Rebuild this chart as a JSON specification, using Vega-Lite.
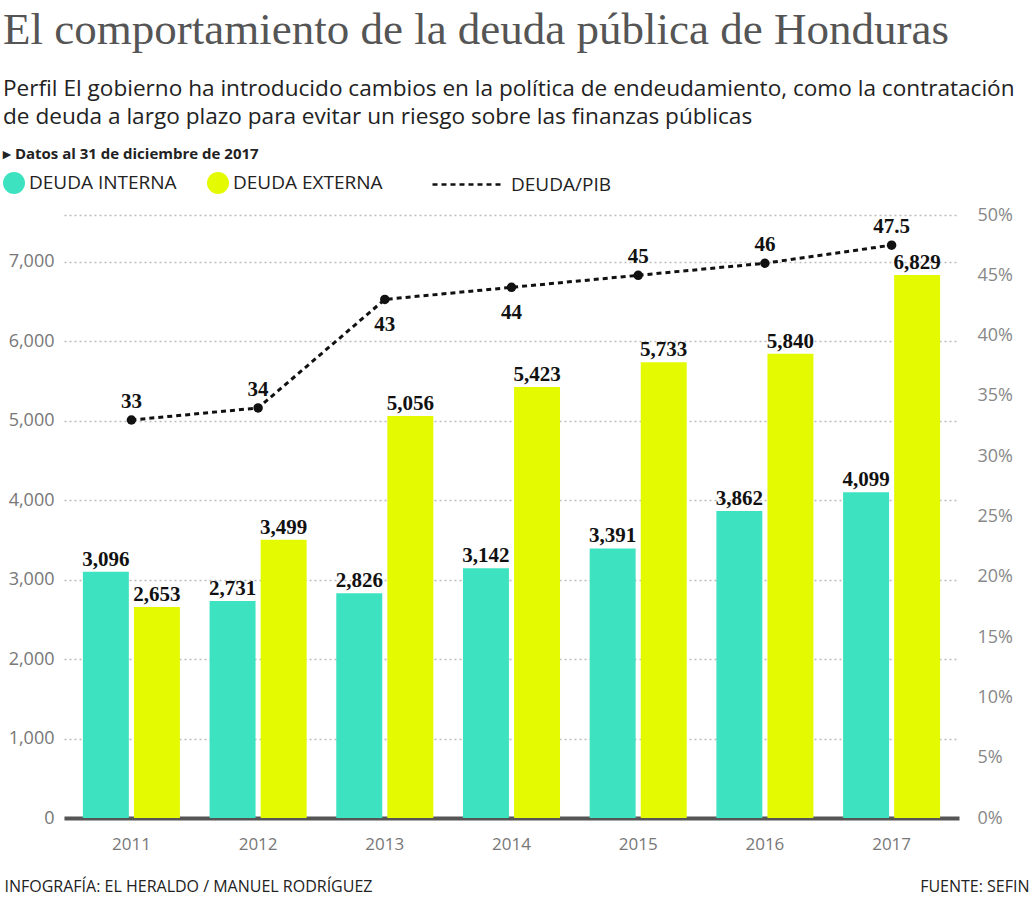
{
  "$schema": "https://vega.github.io/schema/vega-lite/v6.json",
  "width": 895,
  "height": 603,
  "padding": {"left": 3, "top": 8, "right": 3, "bottom": 5},
  "background": "white",
  "config": {"view": {"stroke": null}, "font": "Open Sans"},
  "title": {
    "text": "El comportamiento de la deuda pública de Honduras",
    "subtitle": [
      "Perfil El gobierno ha introducido cambios en la política de endeudamiento, como la contratación",
      "de deuda a largo plazo para evitar un riesgo sobre las finanzas públicas"
    ],
    "anchor": "start",
    "frame": "bounds",
    "font": "Liberation Serif",
    "fontSize": 45,
    "fontWeight": "normal",
    "color": "#555",
    "subtitleFont": "Open Sans",
    "subtitleFontSize": 22.6,
    "subtitleColor": "#222",
    "subtitleLineHeight": 28,
    "subtitlePadding": 25,
    "offset": 18
  },
  "datasets": {
    "deuda": [
      {"year": "2011", "tipo": "DEUDA INTERNA", "value": 3096},
      {"year": "2011", "tipo": "DEUDA EXTERNA", "value": 2653},
      {"year": "2012", "tipo": "DEUDA INTERNA", "value": 2731},
      {"year": "2012", "tipo": "DEUDA EXTERNA", "value": 3499},
      {"year": "2013", "tipo": "DEUDA INTERNA", "value": 2826},
      {"year": "2013", "tipo": "DEUDA EXTERNA", "value": 5056},
      {"year": "2014", "tipo": "DEUDA INTERNA", "value": 3142},
      {"year": "2014", "tipo": "DEUDA EXTERNA", "value": 5423},
      {"year": "2015", "tipo": "DEUDA INTERNA", "value": 3391},
      {"year": "2015", "tipo": "DEUDA EXTERNA", "value": 5733},
      {"year": "2016", "tipo": "DEUDA INTERNA", "value": 3862},
      {"year": "2016", "tipo": "DEUDA EXTERNA", "value": 5840},
      {"year": "2017", "tipo": "DEUDA INTERNA", "value": 4099},
      {"year": "2017", "tipo": "DEUDA EXTERNA", "value": 6829}
    ],
    "pib": [
      {"year": "2011", "pib": 33},
      {"year": "2012", "pib": 34},
      {"year": "2013", "pib": 43},
      {"year": "2014", "pib": 44},
      {"year": "2015", "pib": 45},
      {"year": "2016", "pib": 46},
      {"year": "2017", "pib": 47.5}
    ]
  },
  "layer": [
    {
      "data": {"name": "deuda"},
      "encoding": {
        "x": {
          "field": "year",
          "type": "nominal",
          "scale": {"paddingInner": 0.234, "paddingOuter": 0.149},
          "axis": {
            "labelAngle": 0,
            "labelPadding": 18,
            "labelFontSize": 17,
            "labelColor": "#777",
            "ticks": false,
            "domain": true,
            "domainColor": "#555",
            "domainWidth": 4,
            "grid": false,
            "title": "INFOGRAFÍA: EL HERALDO / MANUEL RODRÍGUEZ",
            "titleX": -60,
            "titleY": 68,
            "titleAlign": "left",
            "titleAnchor": null,
            "titleBaseline": "middle",
            "titleFontSize": 16,
            "titleFontWeight": "normal",
            "titleColor": "#222"
          }
        },
        "xOffset": {
          "field": "tipo",
          "sort": ["DEUDA INTERNA", "DEUDA EXTERNA"],
          "scale": {"paddingInner": 0.1, "paddingOuter": 0}
        },
        "y": {
          "field": "value",
          "type": "quantitative",
          "scale": {"domain": [0, 7585], "nice": false, "zero": true},
          "axis": {
            "orient": "left",
            "values": [0, 1000, 2000, 3000, 4000, 5000, 6000, 7000, 7585],
            "labelExpr": "datum.value > 7000 ? '' : format(datum.value, ',')",
            "grid": true,
            "gridDash": [2, 3],
            "gridColor": "#bbb",
            "gridWidth": 1.5,
            "domain": false,
            "ticks": false,
            "labelPadding": 10,
            "labelFontSize": 18,
            "labelColor": "#777",
            "title": null
          }
        }
      },
      "layer": [
        {
          "mark": {"type": "bar"},
          "encoding": {
            "color": {
              "field": "tipo",
              "type": "nominal",
              "scale": {"domain": ["DEUDA INTERNA", "DEUDA EXTERNA"], "range": ["#3de3c0", "#e4fa00"]},
              "legend": {
                "orient": "none",
                "legendX": -61,
                "legendY": -68,
                "direction": "horizontal",
                "title": "▸ Datos al 31 de diciembre de 2017",
                "titleLimit": 600,
                "titleFontSize": 15,
                "titleFontWeight": "bold",
                "titleColor": "#222",
                "titlePadding": 10,
                "symbolType": "circle",
                "symbolSize": 484,
                "symbolStrokeWidth": 0,
                "labelFontSize": 19,
                "labelColor": "#222",
                "labelOffset": 4,
                "labelLimit": 300,
                "columnPadding": 30
              }
            }
          }
        },
        {
          "mark": {"type": "text", "font": "Liberation Serif", "fontWeight": "bold", "fontSize": 21, "baseline": "alphabetic", "dy": -6, "color": "#111"},
          "encoding": {
            "text": {"field": "value", "type": "quantitative", "format": ","}
          }
        }
      ]
    },
    {
      "data": {"name": "pib"},
      "encoding": {
        "x": {"field": "year", "type": "nominal"},
        "y": {
          "field": "pib",
          "type": "quantitative",
          "scale": {"domain": [0, 50], "nice": false},
          "axis": {
            "orient": "right",
            "values": [0, 5, 10, 15, 20, 25, 30, 35, 40, 45, 50],
            "labelExpr": "datum.value + '%'",
            "grid": false,
            "domain": false,
            "ticks": false,
            "labelPadding": 18,
            "labelFontSize": 18,
            "labelColor": "#888",
            "title": "FUENTE: SEFIN",
            "titleAngle": 0,
            "titleAlign": "right",
            "titleAnchor": null,
            "titleBaseline": "middle",
            "titleX": 70,
            "titleY": 671,
            "titleFontSize": 16,
            "titleFontWeight": "normal",
            "titleColor": "#222"
          }
        }
      },
      "layer": [
        {
          "mark": {"type": "line", "color": "#111", "strokeWidth": 3},
          "encoding": {
            "strokeDash": {
              "datum": "DEUDA/PIB",
              "scale": {"domain": ["DEUDA/PIB"], "range": [[5, 4]]},
              "legend": {
                "orient": "none",
                "legendX": 367,
                "legendY": -67,
                "title": null,
                "symbolType": "stroke",
                "symbolSize": 4900,
                "symbolStrokeColor": "#111",
                "symbolStrokeWidth": 2.5,
                "labelFontSize": 19,
                "labelColor": "#222",
                "labelOffset": 7
              }
            }
          }
        },
        {
          "mark": {"type": "circle", "color": "#111", "size": 90, "opacity": 1}
        },
        {
          "transform": [{"filter": "datum.year != '2013' && datum.year != '2014'"}],
          "mark": {"type": "text", "font": "Liberation Serif", "fontWeight": "bold", "fontSize": 21, "baseline": "alphabetic", "dy": -12, "color": "#111"},
          "encoding": {"text": {"field": "pib", "type": "quantitative", "format": ".1~f"}}
        },
        {
          "transform": [{"filter": "datum.year == '2013' || datum.year == '2014'"}],
          "mark": {"type": "text", "font": "Liberation Serif", "fontWeight": "bold", "fontSize": 21, "baseline": "top", "dy": 15, "color": "#111"},
          "encoding": {"text": {"field": "pib", "type": "quantitative", "format": ".1~f"}}
        }
      ]
    }
  ],
  "resolve": {"scale": {"y": "independent"}}
}
